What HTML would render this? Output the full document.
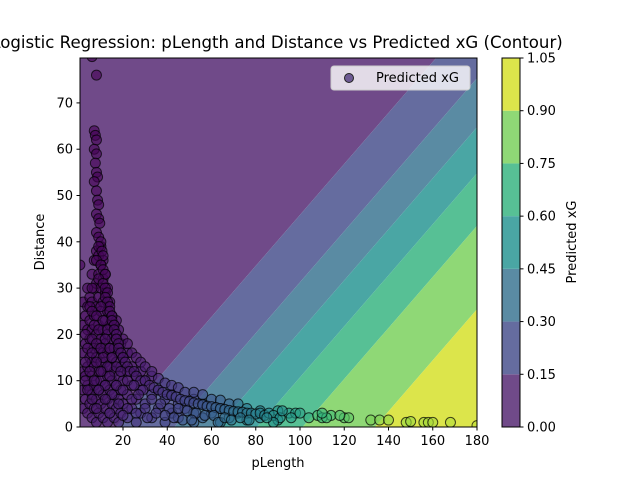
<!DOCTYPE html>
<html><head><meta charset="utf-8">
<style>
body{margin:0;background:#fff;}
svg{display:block;font-family:"DejaVu Sans","Liberation Sans",sans-serif;}
</style></head>
<body>
<svg id="chart" width="640" height="480" viewBox="0 0 640 480">
<defs><clipPath id="plotclip"><rect x="80" y="58" width="397" height="369"/></clipPath></defs>
<g id="contours" clip-path="url(#plotclip)"></g>
<g id="points" clip-path="url(#plotclip)"></g>
<rect x="80" y="58" width="397" height="369" fill="none" stroke="#000" stroke-width="1"/>
<g id="xticks"></g>
<g id="yticks"></g>
<text x="278" y="467" font-size="13" text-anchor="middle">pLength</text>
<text x="44" y="242" font-size="13" text-anchor="middle" transform="rotate(-90 44 242)">Distance</text>
<text x="277" y="48" font-size="16.6" text-anchor="middle">Logistic Regression: pLength and Distance vs Predicted xG (Contour)</text>
<g>
<rect x="331" y="66" width="139" height="24" rx="3" fill="#fff" fill-opacity="0.8" stroke="#ccc"/>
<circle cx="349" cy="78" r="4.5" fill="#6d5a93" stroke="#222"/>
<text x="376" y="82" font-size="13">Predicted xG</text>
</g>
<g id="cbar"></g>
<text x="576" y="242" font-size="13" text-anchor="middle" transform="rotate(-90 576 242)">Predicted xG</text>
</svg>
<script>
const levels=[0,0.15,0.30,0.45,0.60,0.75,0.90,1.05];
const bandColors=["#704a89","#656c9f","#5a8ba3","#4aa6a4","#57c095","#8fd876","#dce54b"];
const levelLabels=["0.00","0.15","0.30","0.45","0.60","0.75","0.90","1.05"];
const xTicks=[20,40,60,80,100,120,140,160,180];
const yTicks=[0,10,20,30,40,50,60,70];
const coefA=-2.30, coefB=0.0336, coefC=-0.0610;
const pLength=[6,8,7,7.5,8,7,8,7.5,8,8.5,7,8,8.5,9,8,9,9.5,8,9,10,9,10.5,11,8,10,11,12,9,4,6,11,12,13,0.5,5,6,12,13,14,10,8,14,15,11,7,9,15,16,13,3,6,16,17,12,8,4,10,17,18,14,6,11,18,19,15,3,8,13,20,21,17,5,10,22,23,19,14,3,7,12,25,26,22,17,4,9,15,28,30,25,20,6,12,18,24,32,34,29,27,22,8,14,36,38,33,30,26,20,40,42,37,35,31,44,46,41,39,48,50,45,43,52,54,49,47,56,58,53,51,60,62,57,64,66,61,63,68,70,66,72,74,69,76,78,73,80,82,77,84,86,88,91,88,95,98,100,96,108,110,112,120,122,132,136,140,148,156,158,160,168,180,110,118,92,85,150];
const distance=[80,76,64,63,62,60,59,57,55,54,53,51,49,48,46,45,44,42,41,40,39,38,37,36,35,34,33,32,30,30,31,30,29,35,26,25,28,27,26,26,24,25,24,23,22,21,23,22,21,20,19,21,20,19,18,17,17,19,18,17,16,15,17,16,15,14,14,13,15,14,13,12,12,13,12,12,11,10,10,9,12,11,10,9,8,8,7,10,10,9,8,6,6,5,6,9,8.5,8,7,4,4,3,8,7.5,6,4,3,2.5,7,6.8,5,3,2,6.5,6,4,2.5,5.7,5.5,4,2,5.2,5,3.5,1.5,4.8,4.5,3,1.5,4.4,4.2,2.5,4,3.8,2.5,1,3.6,3.4,2,3.3,3.2,1.5,3,3,2,2.8,3,1.5,2.5,3,2.5,2,1,3,3,3,2,2.5,2,2,2,2,1.5,1.5,1.5,1,1,1,1,1,0.3,3,2.5,3.5,2,1.2];
const extraShots=[[2,4],[2,8],[2,12],[2,16],[2,22],[2,27],[3,6],[3,11],[3,18],[3,24],[4,3],[4,9],[4,13],[4,21],[4,26],[5,5],[5,8],[5,15],[5,19],[5,23],[5,28],[6,2],[6,7],[6,11],[6,14],[6,21],[6,27],[6,33],[7,4],[7,9],[7,13],[7,17],[7,24],[7,30],[7,36],[8,1],[8,6],[8,10],[8,15],[8,20],[8,26],[8,31],[8,38],[9,3],[9,8],[9,12],[9,17],[9,22],[9,28],[9,33],[9,37],[10,5],[10,10],[10,14],[10,19],[10,25],[10,30],[10,35],[10,39],[11,2],[11,7],[11,12],[11,16],[11,21],[11,27],[11,32],[11,36],[12,4],[12,9],[12,14],[12,18],[12,23],[12,29],[12,33],[13,1],[13,6],[13,11],[13,16],[13,20],[13,25],[13,30],[14,3],[14,8],[14,13],[14,17],[14,22],[14,27],[15,5],[15,10],[15,15],[15,19],[15,24],[16,2],[16,7],[16,12],[16,17],[16,22],[17,4],[17,9],[17,14],[17,19],[17,23],[18,1],[18,6],[18,11],[18,16],[18,21],[19,3],[19,8],[19,13],[19,18],[20,5],[20,10],[20,15],[20,19],[22,2],[22,7],[22,12],[22,16],[22,18],[24,4],[24,9],[24,13],[24,16],[26,1],[26,6],[26,11],[26,15],[28,3],[28,8],[28,12],[28,14],[30,5],[30,10],[30,13],[33,2],[33,7],[33,11],[33,12],[36,4],[36,8],[36,10.5],[39,1],[39,6],[39,9.5],[42,3],[42,7],[42,9],[45,2],[45,5],[45,8.5],[48,4],[48,7.5],[52,1],[52,3],[52,6],[52,7.5],[56,2],[56,5],[56,7],[60,3],[60,6],[64,1],[64,4],[64,5.8],[68,2],[68,5],[72,3],[72,5],[76,1.5],[76,4],[82,2],[82,3.5],[90,1.5],[90,3.5],[104,2],[114,2.5]];
const X0=0.56,X1=180,PX0=80,PX1=477,Y0=0,Y1=79.7,PY0=427,PY1=58;
function sx(v){return PX0+(v-X0)/(X1-X0)*(PX1-PX0);}
function sy(v){return PY0+(v-Y0)/(Y1-Y0)*(PY1-PY0);}
function logit(x,y){return coefA+coefB*x+coefC*y;}
function prob(x,y){return 1/(1+Math.exp(-logit(x,y)));}
const NS="http://www.w3.org/2000/svg";
function mk(t,a){const e=document.createElementNS(NS,t);for(const k in a)e.setAttribute(k,a[k]);return e;}
function lg(p){return Math.log(p/(1-p));}
function clip(poly,lv,keepAbove){
  if(lv===null)return poly;const out=[];
  for(let i=0;i<poly.length;i++){const A=poly[i],B=poly[(i+1)%poly.length];
    const fa=logit(A[0],A[1])-lv,fb=logit(B[0],B[1])-lv;
    const ina=keepAbove?fa>=0:fa<0,inb=keepAbove?fb>=0:fb<0;
    if(ina)out.push(A);
    if(ina!==inb){const t=fa/(fa-fb);out.push([A[0]+t*(B[0]-A[0]),A[1]+t*(B[1]-A[1])]);}
  }return out;}
const rectPoly=[[X0,Y0],[X1,Y0],[X1,Y1],[X0,Y1]];
const cg=document.getElementById('contours');
for(let i=0;i<bandColors.length;i++){
  let poly=rectPoly;
  const lo=i===0?null:lg(levels[i]);const hi=i===bandColors.length-1?null:lg(levels[i+1]);
  poly=clip(poly,lo,true);poly=clip(poly,hi,false);
  if(poly.length<3)continue;
  const el=mk('polygon',{points:poly.map(p=>sx(p[0]).toFixed(2)+','+sy(p[1]).toFixed(2)).join(' '),fill:bandColors[i]});
  
  
  cg.appendChild(el);
}
const vir=[[0,[68,1,84]],[0.13,[72,36,117]],[0.25,[65,68,135]],[0.38,[53,95,141]],[0.5,[42,120,142]],[0.63,[33,145,140]],[0.75,[53,183,121]],[0.88,[144,215,67]],[1,[253,231,37]]];
function viridis(t){t=Math.max(0,Math.min(1,t));for(let i=1;i<vir.length;i++){if(t<=vir[i][0]){const a=vir[i-1],b=vir[i],f=(t-a[0])/(b[0]-a[0]);return 'rgb('+a[1].map((c,j)=>Math.round(c+f*(b[1][j]-c))).join(',')+')';}}return 'rgb(253,231,37)';}
const pg=document.getElementById('points');
function addPoint(x,y){
  const p=prob(x,y);
  const c=mk('circle',{cx:sx(x).toFixed(2),cy:sy(y).toFixed(2),r:5,fill:viridis(p/1.05),'fill-opacity':0.6,stroke:'#000','stroke-opacity':0.7,'stroke-width':1});
  
  
  pg.appendChild(c);
}
extraShots.forEach(s=>addPoint(s[0],s[1]));
for(let i=0;i<Math.min(pLength.length,distance.length);i++){addPoint(pLength[i],distance[i]);}
const xg=document.getElementById('xticks');
xTicks.forEach(v=>{const x=sx(v);
  const l=mk('line',{x1:x,x2:x,y1:427,y2:430.5,stroke:'#000'});
  
  
  xg.appendChild(l);
  const t=mk('text',{x:x,y:445,'font-size':13,'text-anchor':'middle'});t.textContent=v;
  
  
  xg.appendChild(t);});
const yg=document.getElementById('yticks');
yTicks.forEach(v=>{const y=sy(v);
  const l=mk('line',{x1:76.5,x2:80,y1:y,y2:y,stroke:'#000'});
  
  
  yg.appendChild(l);
  const t=mk('text',{x:73,y:y+4.5,'font-size':13,'text-anchor':'end'});t.textContent=v;
  
  
  yg.appendChild(t);});
const cb=document.getElementById('cbar');
const CB0=427,CB1=58;function cy(v){return CB0+(v-levels[0])/(levels[levels.length-1]-levels[0])*(CB1-CB0);}
for(let i=0;i<bandColors.length;i++){
  const r=mk('rect',{x:502,y:cy(levels[i+1]),width:18,height:cy(levels[i])-cy(levels[i+1]),fill:bandColors[i]});
  
  
  cb.appendChild(r);}
const fr=mk('rect',{x:502,y:58,width:18,height:369,fill:'none',stroke:'#000'});


cb.appendChild(fr);
levels.forEach((v,i)=>{const y=cy(v);
  const l=mk('line',{x1:520,x2:523.5,y1:y,y2:y,stroke:'#000'});
  
  
  cb.appendChild(l);
  const t=mk('text',{x:527,y:y+4.5,'font-size':13});t.textContent=levelLabels[i];
  
  
  cb.appendChild(t);});
</script>
</body></html>
